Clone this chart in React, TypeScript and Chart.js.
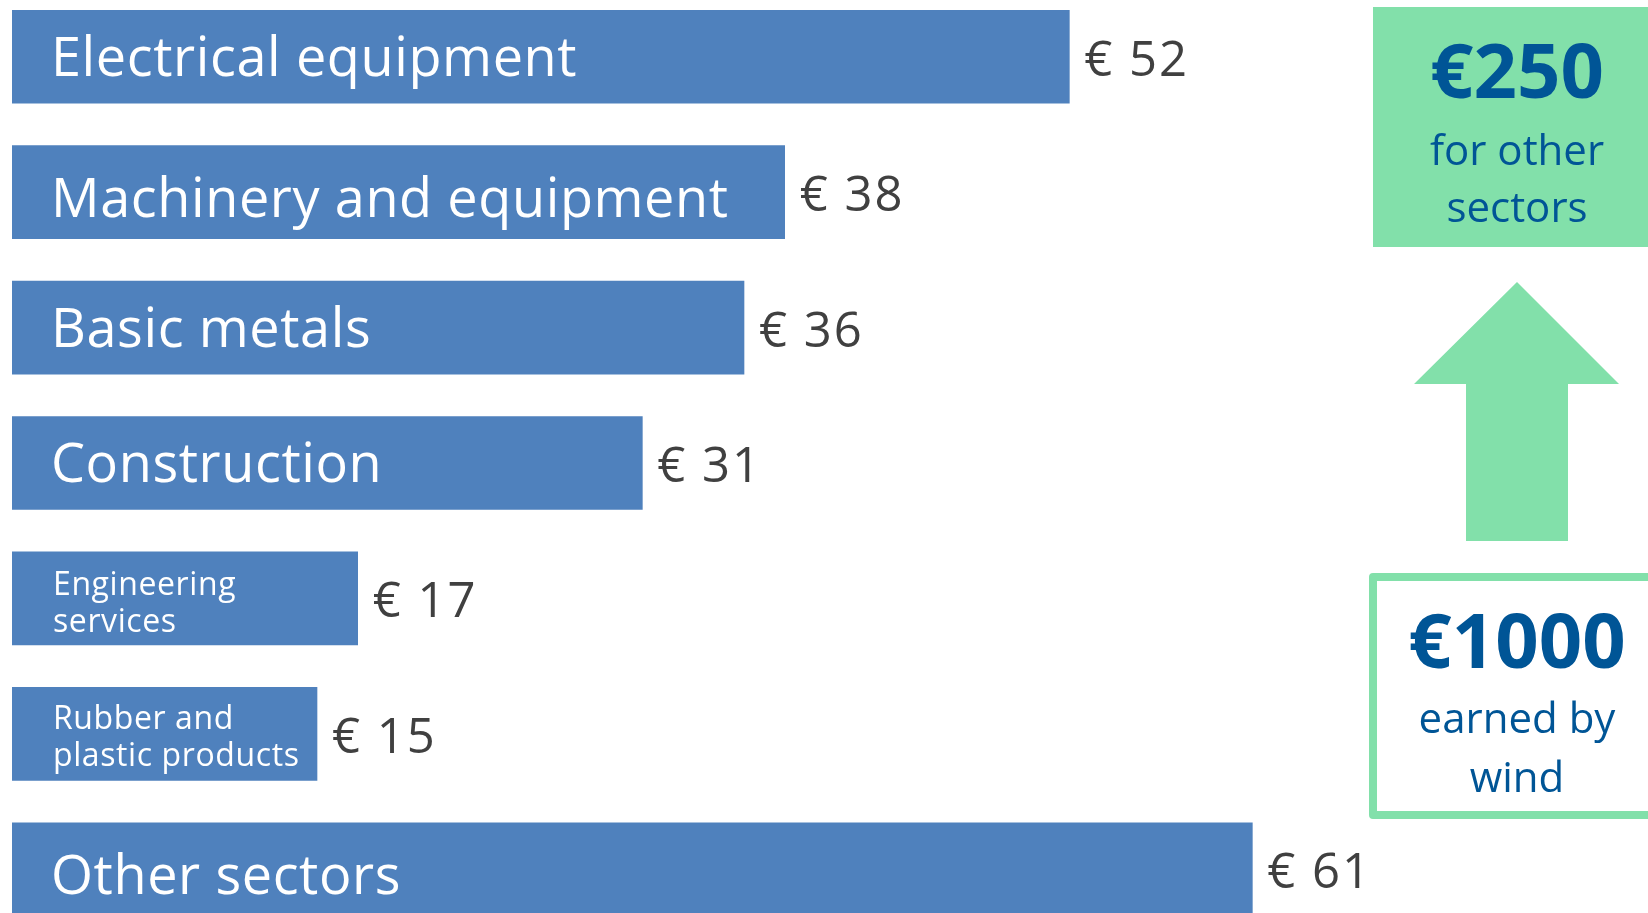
import React, { useEffect, useRef } from "react";
import { Chart, registerables } from "chart.js";

Chart.register(...registerables);

const categories = [
  "Electrical equipment",
  "Machinery and equipment",
  "Basic metals",
  "Construction",
  "Engineering services",
  "Rubber and plastic products",
  "Other sectors",
];
const barLabelLines = [
  ["Electrical equipment"],
  ["Machinery and equipment"],
  ["Basic metals"],
  ["Construction"],
  ["Engineering", "services"],
  ["Rubber and", "plastic products"],
  ["Other sectors"],
];
const values = [52, 38, 36, 31, 17, 15, 61];
const valuePrefix = "€ ";
const xMax = 66;

const sectorsTotal = "€250";
const sectorsLines = ["for other", "sectors"];
const windTotal = "€1000";
const windLines = ["earned by", "wind"];

// small per-row vertical nudges of the in-bar label (style only)
const labelNudge = [0, 6, 0, 0, 1, -1, 6];

const BLUE = "#4F81BD";
const GREEN = "#82E0AA";
const TEXT_BLUE = "#005596";
const VALUE_GREY = "#404040";
const FONT = '"Open Sans", "Noto Sans", sans-serif';
const Y_SHIFT = 11; // canvas sits 11px above the page top

const labelPlugin = {
  id: "barLabels",
  beforeDatasetsDraw(chart: any) {
    const ctx = chart.ctx as CanvasRenderingContext2D;
    const s = Y_SHIFT;
    ctx.save();
    ctx.fillStyle = GREEN;
    ctx.fillRect(1373, 7 + s, 300, 240);
    ctx.beginPath();
    ctx.moveTo(1517, 282 + s);
    ctx.lineTo(1619, 384 + s);
    ctx.lineTo(1568, 384 + s);
    ctx.lineTo(1568, 541 + s);
    ctx.lineTo(1466, 541 + s);
    ctx.lineTo(1466, 384 + s);
    ctx.lineTo(1414, 384 + s);
    ctx.closePath();
    ctx.fill();
    ctx.strokeStyle = GREEN;
    ctx.lineWidth = 8;
    ctx.lineJoin = "round";
    ctx.strokeRect(1373, 577 + s, 320, 238);
    ctx.fillStyle = TEXT_BLUE;
    ctx.textAlign = "center";
    ctx.textBaseline = "alphabetic";
    ctx.font = `700 76px ${FONT}`;
    ctx.fillText(sectorsTotal, 1517, 98 + s);
    ctx.font = `400 42px ${FONT}`;
    ctx.fillText(sectorsLines[0], 1517, 165 + s);
    ctx.fillText(sectorsLines[1], 1517, 222 + s);
    ctx.font = `700 76px ${FONT}`;
    ctx.fillText(windTotal, 1517, 668 + s);
    ctx.font = `400 42px ${FONT}`;
    ctx.fillText(windLines[0], 1517, 733 + s);
    ctx.fillText(windLines[1], 1517, 792 + s);
    ctx.restore();
  },
  afterDatasetsDraw(chart: any) {
    const ctx = chart.ctx as any;
    const meta = chart.getDatasetMeta(0);
    meta.data.forEach((bar: any, i: number) => {
      const { x, y, base } = bar.getProps(["x", "y", "base"], true);
      const lines = barLabelLines[i];
      const dy = labelNudge[i];
      ctx.save();
      ctx.textAlign = "left";
      ctx.textBaseline = "alphabetic";
      ctx.fillStyle = "#ffffff";
      ctx.letterSpacing = "0.6px";
      if (lines.length === 1) {
        ctx.font = `400 54px ${FONT}`;
        ctx.fillText(lines[0], base + 39, y + 19 + dy);
      } else {
        ctx.font = `400 32px ${FONT}`;
        ctx.fillText(lines[0], base + 41, y - 4 + dy);
        ctx.fillText(lines[1], base + 41, y + 33 + dy);
      }
      ctx.fillStyle = VALUE_GREY;
      ctx.letterSpacing = "2px";
      ctx.font = `400 49px ${FONT}`;
      ctx.fillText(valuePrefix + values[i], x + 15, y + 19);
      ctx.restore();
    });
  },
};

export default function App() {
  const canvasRef = useRef<HTMLCanvasElement | null>(null);

  useEffect(() => {
    if (!canvasRef.current) return;
    const chart = new Chart(canvasRef.current, {
      type: "bar",
      data: {
        labels: categories,
        datasets: [
          {
            data: values,
            backgroundColor: BLUE,
            borderWidth: 0,
            barThickness: 93,
          },
        ],
      },
      options: {
        indexAxis: "y",
        responsive: false,
        animation: false,
        devicePixelRatio: 1,
        layout: { padding: { left: 12, right: 294, top: 0, bottom: 0 } },
        scales: {
          x: { display: false, min: 0, max: xMax },
          y: { display: false },
        },
        plugins: {
          legend: { display: false },
          tooltip: { enabled: false },
        },
      },
      plugins: [labelPlugin],
    } as any);
    return () => chart.destroy();
  }, []);

  return (
    <div
      style={{
        position: "fixed",
        left: 0,
        top: 0,
        width: 1648,
        height: 913,
        overflow: "hidden",
        background: "#ffffff",
      }}
    >
      <div style={{ position: "absolute", left: 0, top: -Y_SHIFT, width: 1648, height: 948 }}>
        <canvas ref={canvasRef} width={1648} height={948} style={{ width: 1648, height: 948, display: "block" }} />
      </div>
    </div>
  );
}
